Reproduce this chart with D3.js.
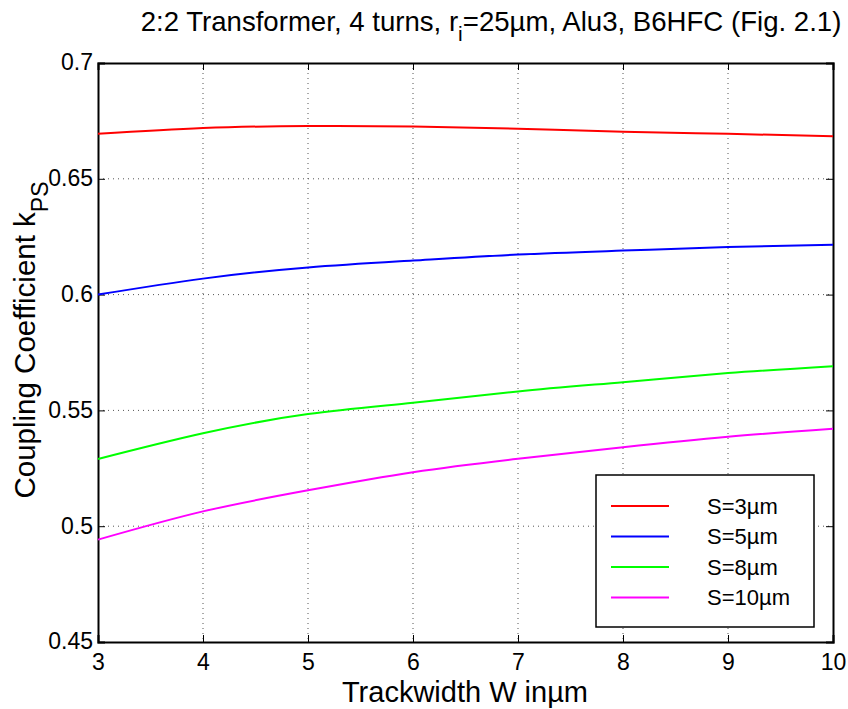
<!DOCTYPE html>
<html>
<head>
<meta charset="utf-8">
<script src="https://cdn.jsdelivr.net/npm/d3@7"></script>
<style>
  body { margin: 0; background: #fff; }
  svg { font-family: "Liberation Sans", Arial, Helvetica, sans-serif; }
</style>
</head>
<body>
<div class="canvas"></div>
<script>
// data
const widths = [3, 4, 5, 6, 7, 8, 9, 10];
const s3 = [0.6694, 0.6719, 0.6728, 0.6726, 0.6716, 0.6703, 0.6694, 0.6684];
const s5 = [0.6000, 0.6069, 0.6117, 0.6147, 0.6173, 0.6190, 0.6205, 0.6215];
const s8 = [0.5290, 0.5401, 0.5484, 0.5533, 0.5582, 0.5622, 0.5661, 0.5691];
const s10 = [0.4942, 0.5064, 0.5155, 0.5233, 0.5291, 0.5341, 0.5386, 0.5421];
const seriesNames = ["S=3\u00b5m", "S=5\u00b5m", "S=8\u00b5m", "S=10\u00b5m"];
const seriesColors = ["#ff0000", "#0000ff", "#00ff00", "#ff00ff"];
const xTicks = [3, 4, 5, 6, 7, 8, 9, 10];
const yTicks = [0.45, 0.5, 0.55, 0.6, 0.65, 0.7];

// margins and dimensions
const w = 848;
const h = 709;
const margin = { top: 63, right: 15, bottom: 67, left: 98 };
const graphWidth = 833 - margin.left;
const graphHeight = 642 - margin.top;

const svg = d3.select(".canvas").append("svg").attr("width", w).attr("height", h);

const graph = svg.append("g")
  .attr("transform", `translate(${margin.left}, ${margin.top})`);

const x = d3.scaleLinear().domain([3, 10]).range([0, graphWidth]);
const y = d3.scaleLinear().domain([0.45, 0.7]).range([graphHeight, 0]);

// dotted grid
graph.append("g").selectAll("line").data(xTicks.slice(1, -1)).join("line")
  .attr("x1", d => x(d)).attr("x2", d => x(d))
  .attr("y1", 0).attr("y2", graphHeight)
  .attr("stroke", "#555").attr("stroke-width", 1).attr("stroke-dasharray", "1,4");
graph.append("g").selectAll("line").data(yTicks.slice(1, -1)).join("line")
  .attr("x1", 0).attr("x2", graphWidth)
  .attr("y1", d => y(d)).attr("y2", d => y(d))
  .attr("stroke", "#555").attr("stroke-width", 1).attr("stroke-dasharray", "1,4");

// axes with inward ticks (matlab style box)
const fmtY = d => d3.format("")(+d.toFixed(2));
const axB = graph.append("g").attr("transform", `translate(0, ${graphHeight})`)
  .call(d3.axisBottom(x).tickValues(xTicks).tickSize(-7).tickPadding(12).tickFormat(d3.format("d")));
const axT = graph.append("g")
  .call(d3.axisTop(x).tickValues(xTicks).tickSize(-7).tickFormat(""));
const axL = graph.append("g")
  .call(d3.axisLeft(y).tickValues(yTicks).tickSize(-7).tickPadding(5).tickFormat(fmtY));
const axR = graph.append("g").attr("transform", `translate(${graphWidth}, 0)`)
  .call(d3.axisRight(y).tickValues(yTicks).tickSize(-7).tickFormat(""));

[axB, axT, axL, axR].forEach(a => {
  a.select(".domain").attr("stroke", "#000").attr("stroke-width", 2);
  a.selectAll(".tick line").attr("stroke", "#000").attr("stroke-width", 1);
  a.selectAll("text").style("font-size", "23px").attr("fill", "#000")
    .style("font-family", "Liberation Sans, Arial, sans-serif");
});
axL.selectAll("text").attr("dy", "0.3em");

// curves
const line = d3.line()
  .x((d, i) => x(widths[i]))
  .y(d => y(d))
  .curve(d3.curveNatural);

[s3, s5, s8, s10].forEach((s, i) => {
  graph.append("path")
    .datum(s)
    .attr("d", line)
    .attr("fill", "none")
    .attr("stroke", seriesColors[i])
    .attr("stroke-width", 2);
});

// legend
const lg = svg.append("g").attr("transform", "translate(596, 475)");
lg.append("rect").attr("width", 218).attr("height", 152)
  .attr("fill", "#fff").attr("stroke", "#000").attr("stroke-width", 1.5);
seriesNames.forEach((n, i) => {
  const yy = 31 + i * 30.5;
  lg.append("line").attr("x1", 15).attr("x2", 73).attr("y1", yy).attr("y2", yy)
    .attr("stroke", seriesColors[i]).attr("stroke-width", 2);
  lg.append("text").attr("x", 111).attr("y", yy).attr("dy", "0.35em")
    .style("font-size", "22px").text(n);
});

// title
const title = svg.append("text")
  .attr("x", 491).attr("y", 31)
  .attr("text-anchor", "middle").style("font-size", "27.6px");
title.append("tspan").text("2:2 Transformer, 4 turns, r");
title.append("tspan").style("font-size", "21px").attr("dy", 10).text("i");
title.append("tspan").attr("dy", -10).text("=25\u00b5m, Alu3, B6HFC (Fig. 2.1)");

// x label
svg.append("text")
  .attr("x", 465).attr("y", 702)
  .attr("text-anchor", "middle").style("font-size", "29px")
  .text("Trackwidth W in\u00b5m");

// y label
const yl = svg.append("text")
  .attr("transform", `translate(35, 340) rotate(-90)`)
  .attr("text-anchor", "middle").style("font-size", "29.5px");
yl.append("tspan").text("Coupling Coefficient k");
yl.append("tspan").style("font-size", "23px").attr("dy", 13).text("PS");
</script>
</body>
</html>
